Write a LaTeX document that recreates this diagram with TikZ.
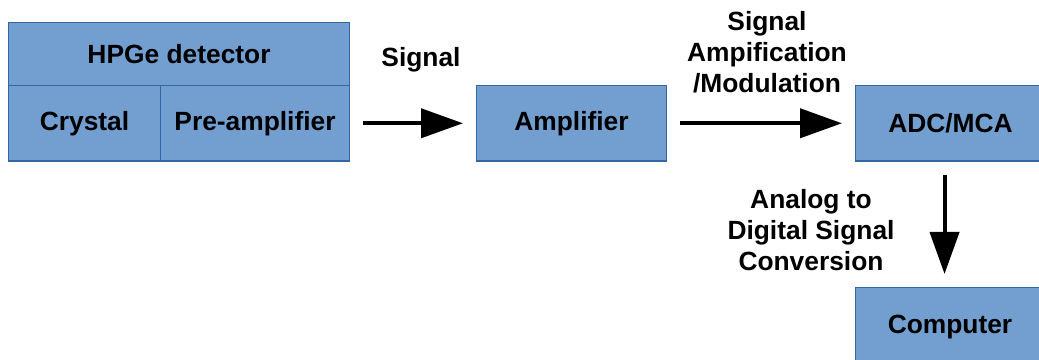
\documentclass[tikz,border=0pt]{standalone}
\usepackage{fontspec}
\setmainfont{Liberation Sans}
\usetikzlibrary{arrows.meta}
\definecolor{boxfill}{HTML}{729FCF}
\definecolor{boxline}{HTML}{3465A4}
\begin{document}
\begin{tikzpicture}[
  blockbox/.style={draw=boxline, fill=boxfill, line width=0.6pt},
  flowarrow/.style={-{Triangle[length=0.84cm, width=0.58cm]}, line width=0.08cm, shorten <=0.26cm, shorten >=0.26cm},
  lbl/.style={font=\fontsize{15}{17.5}\selectfont\bfseries, align=center, inner sep=0pt}
]
\useasboundingbox (0,0) rectangle (20.78,7.2);
\clip (0,0) rectangle (20.78,7.2);
% detector
\node[blockbox, minimum width=6.82cm, minimum height=1.26cm, anchor=north west] (det) at (0.16,6.76) {};
\node[blockbox, minimum width=3.04cm, minimum height=1.51cm, anchor=north west] (crys) at (0.16,5.5) {};
\node[blockbox, minimum width=3.78cm, minimum height=1.51cm, anchor=north west] (pre) at (3.2,5.5) {};
\node[lbl] at (det.center) {HPGe detector};
\node[lbl] at (crys.center) {Crystal};
\node[lbl] at (pre.center) {Pre-amplifier};
% chain
\node[blockbox, minimum width=3.8cm, minimum height=1.51cm, anchor=north west] (amp) at (9.52,5.5) {};
\node[lbl] at (amp.center) {Amplifier};
\node[blockbox, minimum width=3.8cm, minimum height=1.51cm, anchor=north west] (adc) at (17.1,5.5) {};
\node[lbl] at (adc.center) {ADC/MCA};
\node[blockbox, minimum width=3.8cm, minimum height=1.5cm, anchor=north west] (comp) at (17.1,1.46) {};
\node[lbl] at (19.0,0.66) {Computer};
% labels
\node[lbl] (sig) at (8.42,6.0) {Signal};
\node[lbl] (ampl) at (15.34,6.16) {Signal\\Ampification\\/Modulation};
\node[lbl] (conv) at (16.22,2.6) {Analog to\\Digital Signal\\Conversion};
% arrows
\path [flowarrow] (pre.east) edge (amp.west);
\path [flowarrow] (amp.east) edge (adc.west);
\path [flowarrow] ([xshift=-0.12cm]adc.south) edge ([xshift=-0.12cm]comp.north);
\end{tikzpicture}
\end{document}
